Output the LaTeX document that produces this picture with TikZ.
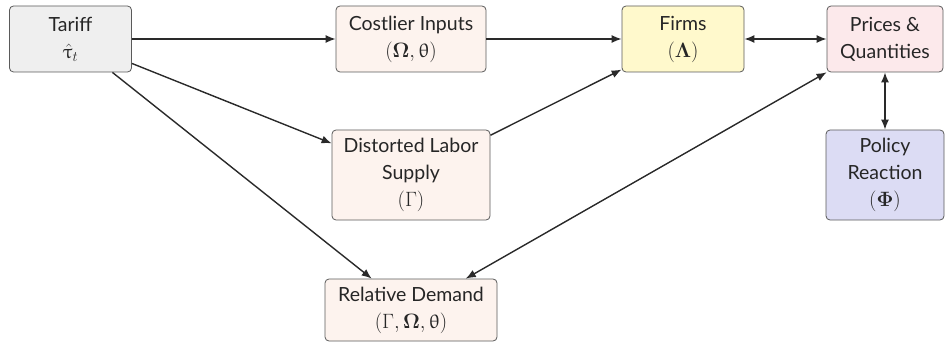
\documentclass[tikz,border=0pt]{standalone}
\usepackage{amsmath}
\usepackage[no-math]{fontspec}
\setmainfont{Lato}
\usepackage{upgreek}
\usetikzlibrary{arrows.meta}

\definecolor{boxline}{HTML}{5A5A5A}
\definecolor{greyfill}{HTML}{EFEFEF}
\definecolor{peachfill}{HTML}{FDF3EE}
\definecolor{yellowfill}{HTML}{FFF9CC}
\definecolor{pinkfill}{HTML}{FCE9EB}
\definecolor{lavfill}{HTML}{DCDCF4}
\definecolor{arrowcol}{HTML}{2A2A2A}

\tikzset{
  stage/.style={draw=boxline, line width=0.8pt, rounded corners=4pt,
    align=center, inner sep=0pt, text=black!85,
    font=\fontsize{19.5}{27}\selectfont},
  link/.style={draw=arrowcol, line width=1.4pt,
    -{Latex[length=10pt,width=8pt]}},
  twolink/.style={draw=arrowcol, line width=1.4pt,
    {Latex[length=10pt,width=8pt]}-{Latex[length=10pt,width=8pt]}}
}

\begin{document}
\begin{tikzpicture}[x=1pt,y=-1pt]
\useasboundingbox (0,0) rectangle (945,342);

\node[stage, fill=greyfill, minimum width=122pt, minimum height=66pt]
  (tariff) at (70.5,39) {Tariff\\$\hat{\uptau}_t$};
\node[stage, fill=peachfill, minimum width=150pt, minimum height=66pt]
  (inputs) at (411,39) {Costlier Inputs\\$(\mathbf{\Omega},\uptheta)$};
\node[stage, fill=yellowfill, minimum width=122pt, minimum height=66pt]
  (firms) at (683,39) {Firms\\$(\mathbf{\Lambda})$};
\node[stage, fill=pinkfill, minimum width=116pt, minimum height=66pt]
  (prices) at (885,39) {Prices \&\\Quantities};
\node[stage, fill=peachfill, minimum width=158pt, minimum height=90pt]
  (labor) at (411,175) {Distorted Labor\\Supply\\$(\Gamma)$};
\node[stage, fill=lavfill, minimum width=118pt, minimum height=90pt]
  (policy) at (885,175) {Policy\\Reaction\\$(\mathbf{\Phi})$};
\node[stage, fill=peachfill, minimum width=172pt, minimum height=62pt]
  (demand) at (411,310) {Relative Demand\\$(\Gamma,\mathbf{\Omega},\uptheta)$};

\draw[link] (tariff) -- (inputs);
\draw[link] (inputs) -- (firms);
\draw[twolink] (firms) -- (prices);
\draw[link] (tariff) -- (labor);
\draw[link] (tariff) -- (demand);
\draw[link] (labor) -- (firms);
\draw[twolink] (demand) -- (prices);
\draw[twolink] (prices) -- (policy);
\end{tikzpicture}
\end{document}
